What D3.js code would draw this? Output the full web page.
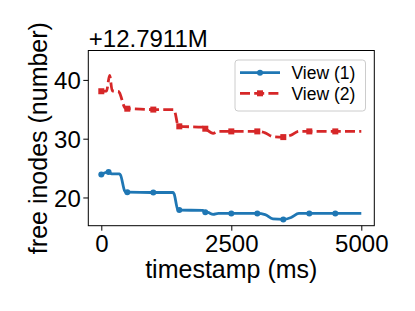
<!DOCTYPE html>
<html>
<head>
<meta charset="utf-8">
<script src="https://cdn.jsdelivr.net/npm/d3@7"></script>
<style>
	body { margin: 0; background: #fff; }
	text { font-family: "Liberation Sans", Arial, sans-serif; fill: #000; }
	.tick-label { font-size: 24px; }
	.axis-label { font-size: 25px; }
	.legend-text { font-size: 17.5px; }
</style>
</head>
<body>
<div id="svg"></div>
<script>
///////////////////////////////////////////////////////////////////////////////
//// Data /////////////////////////////////////////////////////////////////////
///////////////////////////////////////////////////////////////////////////////
// free inodes, shown relative to the offset +12.7911M
const view1Time  = [0, 140, 200, 350, 370, 450, 480, 500, 1000, 1380, 1400, 1470, 1500, 1950, 2000, 2050, 2150, 2250, 2500, 3000, 3150, 3300, 3500, 3650, 3800, 4000, 4500, 5000];
const view1Value = [23.9, 24.34, 24.0, 24.0, 23.8, 21.1, 20.9, 20.9, 20.85, 20.85, 20.6, 17.95, 17.85, 17.8, 17.48, 17.45, 17.12, 17.29, 17.29, 17.29, 17.1, 16.35, 16.27, 16.6, 17.29, 17.29, 17.29, 17.29];
const view1Markers = [0, 140, 500, 1000, 1500, 2000, 2500, 3000, 3500, 4000, 4500];

const view2Time  = [0, 100, 160, 210, 330, 350, 450, 480, 500, 1000, 1390, 1410, 1480, 1500, 1950, 2000, 2150, 2250, 2500, 3000, 3150, 3300, 3500, 3650, 3800, 4000, 4500, 5000];
const view2Value = [38.07, 38.1, 40.75, 38.15, 38.05, 37.8, 35.3, 35.1, 35.1, 34.95, 34.95, 34.7, 32.15, 32.1, 31.95, 31.7, 30.9, 31.24, 31.24, 31.24, 31.0, 30.35, 30.27, 30.6, 31.24, 31.24, 31.24, 31.24];
const view2Markers = [0, 500, 1000, 1500, 2000, 2500, 3000, 3500, 4000, 4500];

const seriesNames = ["View (1)", "View (2)"];
const xTicks = [0, 2500, 5000];
const yTicks = [20, 30, 40];
const offsetLabel = "+12.7911M";

///////////////////////////////////////////////////////////////////////////////
//// Set Up ///////////////////////////////////////////////////////////////////
///////////////////////////////////////////////////////////////////////////////
const margin = {top: 50.5, right: 40.7, bottom: 85.3, left: 88.3},
			width = 415 - margin.left - margin.right,
			height = 311 - margin.top - margin.bottom;

const x = d3.scaleLinear().domain([-250, 5250]).range([0, width]);
const y = d3.scaleLinear().domain([15.2, 45]).range([height, 0]);

const svg = d3.select("#svg")
	.append("svg")
		.attr("width", 415)
		.attr("height", 311);

const g = svg.append("g")
	.attr("transform", `translate(${margin.left}, ${margin.top})`);

const series = [
	{name: seriesNames[0], color: "#1f77b4", dash: null, marker: "circle",
		points: view1Time.map((t, i) => ({t: t, v: view1Value[i]})), marks: view1Markers},
	{name: seriesNames[1], color: "#d62728", dash: "10,4.2", marker: "square",
		points: view2Time.map((t, i) => ({t: t, v: view2Value[i]})), marks: view2Markers}
];

///////////////////////////////////////////////////////////////////////////////
//// Axes /////////////////////////////////////////////////////////////////////
///////////////////////////////////////////////////////////////////////////////
g.append("g")
		.attr("transform", `translate(0, ${height})`)
		.call(d3.axisBottom(x).tickValues(xTicks).tickSize(5).tickPadding(4).tickFormat(d3.format("d")))
		.call(a => {
			a.select(".domain").remove();
			a.selectAll(".tick line").attr("stroke", "#000").attr("stroke-width", 1);
			a.selectAll(".tick text").attr("class", "tick-label").attr("font-size", null)
				.attr("font-family", null).attr("fill", "#000").attr("dy", null).attr("y", 26);
		});

g.append("g")
		.call(d3.axisLeft(y).tickValues(yTicks).tickSize(5).tickPadding(3))
		.call(a => {
			a.select(".domain").remove();
			a.selectAll(".tick line").attr("stroke", "#000").attr("stroke-width", 1);
			a.selectAll(".tick text").attr("class", "tick-label").attr("font-size", null)
				.attr("font-family", null).attr("fill", "#000").attr("dy", "0.36em").attr("x", -7.5);
		});

// frame
g.append("rect")
	.attr("width", width)
	.attr("height", height)
	.attr("fill", "none")
	.attr("stroke", "#000")
	.attr("stroke-width", 1);

svg.append("text")
	.attr("class", "tick-label")
	.attr("x", margin.left + 0.5)
	.attr("y", 46.5)
	.text(offsetLabel);

svg.append("text")
	.attr("class", "axis-label")
	.attr("x", margin.left + width / 2)
	.attr("y", 277.5)
	.attr("text-anchor", "middle")
	.text("timestamp (ms)");

svg.append("text")
	.attr("class", "axis-label")
	.attr("transform", `translate(47, ${margin.top + height / 2}) rotate(-90)`)
	.attr("text-anchor", "middle")
	.text("free inodes (number)");

///////////////////////////////////////////////////////////////////////////////
//// Lines ////////////////////////////////////////////////////////////////////
///////////////////////////////////////////////////////////////////////////////
const line = d3.line()
	.x(d => x(d.t))
	.y(d => y(d.v))
	.curve(d3.curveMonotoneX);

const plot = g.append("g");

series.forEach(s => {
	plot.append("path")
		.datum(s.points)
		.attr("fill", "none")
		.attr("stroke", s.color)
		.attr("stroke-width", 2.8)
		.attr("stroke-dasharray", s.dash)
		.attr("d", line);

	const marked = s.points.filter(p => s.marks.includes(p.t));
	drawMarkers(plot, marked.map(p => [x(p.t), y(p.v)]), s);
});

///////////////////////////////////////////////////////////////////////////////
//// Legend ///////////////////////////////////////////////////////////////////
///////////////////////////////////////////////////////////////////////////////
const legendG = svg.append("g")
	.attr("transform", "translate(235, 60)");

legendG.append("rect")
	.attr("width", 130.5)
	.attr("height", 51)
	.attr("rx", 3)
	.attr("fill", "#fff")
	.attr("fill-opacity", 0.8)
	.attr("stroke", "#cccccc")
	.attr("stroke-width", 1);

series.forEach((s, i) => {
	const rowY = 12.7 + i * 20.6;
	legendG.append("line")
		.attr("x1", 5).attr("x2", 45)
		.attr("y1", rowY).attr("y2", rowY)
		.attr("stroke", s.color)
		.attr("stroke-width", 2.8)
		.attr("stroke-dasharray", s.dash);
	drawMarkers(legendG, [[25, rowY]], s);
	legendG.append("text")
		.attr("class", "legend-text")
		.attr("x", 56.5)
		.attr("y", rowY + 6.3)
		.text(s.name);
});

///////////////////////////////////////////////////////////////////////////////
//// Helper Functions /////////////////////////////////////////////////////////
///////////////////////////////////////////////////////////////////////////////
function drawMarkers(parent, coords, s) {
	if (s.marker === "circle") {
		parent.selectAll(null)
			.data(coords)
			.enter()
			.append("circle")
				.attr("cx", d => d[0])
				.attr("cy", d => d[1])
				.attr("r", 3)
				.attr("fill", s.color);
	} else {
		parent.selectAll(null)
			.data(coords)
			.enter()
			.append("rect")
				.attr("x", d => d[0] - 3)
				.attr("y", d => d[1] - 3)
				.attr("width", 6)
				.attr("height", 6)
				.attr("fill", s.color);
	}
}
</script>
</body>
</html>
